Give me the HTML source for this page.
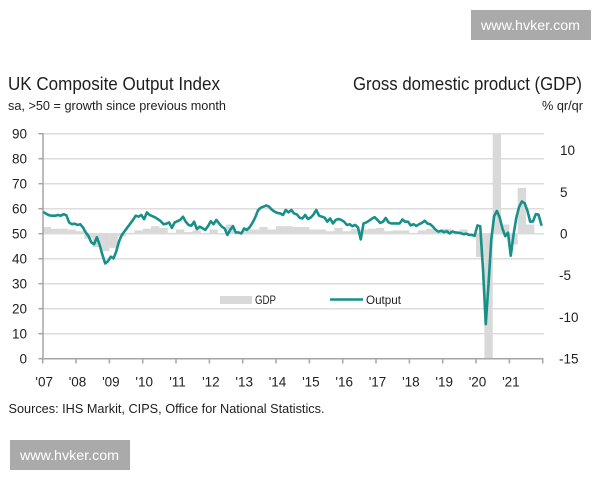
<!DOCTYPE html>
<html>
<head>
<meta charset="utf-8">
<style>
html,body{margin:0;padding:0;background:#fff;}
svg{display:block;}
text{font-family:"Liberation Sans", sans-serif;}
</style>
</head>
<body>
<svg width="600" height="480" viewBox="0 0 600 480" xmlns="http://www.w3.org/2000/svg">
<rect x="0" y="0" width="600" height="480" fill="#fff"/>

<!-- watermarks -->
<rect x="471" y="10" width="120" height="30" fill="#aaaaaa"/>
<text x="481" y="30" font-size="13.5" fill="#fff" textLength="99" lengthAdjust="spacingAndGlyphs">www.hvker.com</text>
<rect x="10" y="440" width="120" height="30" fill="#aaaaaa"/>
<text x="20" y="460" font-size="13.5" fill="#fff" textLength="99" lengthAdjust="spacingAndGlyphs">www.hvker.com</text>

<!-- titles -->
<text x="8" y="90" font-size="18.5" fill="#1e1e1e" textLength="212" lengthAdjust="spacingAndGlyphs">UK Composite Output Index</text>
<text x="8" y="110" font-size="13" fill="#1e1e1e" textLength="218" lengthAdjust="spacingAndGlyphs">sa, &gt;50 = growth since previous month</text>
<text x="353" y="90" font-size="18.5" fill="#1e1e1e" textLength="229" lengthAdjust="spacingAndGlyphs">Gross domestic product (GDP)</text>
<text x="542" y="110" font-size="13" fill="#1e1e1e" textLength="41" lengthAdjust="spacingAndGlyphs">% qr/qr</text>

<!-- gridlines -->
<g stroke="#dddddd" stroke-width="1.5">
<line x1="43" y1="133.7" x2="544" y2="133.7"/>
<line x1="43" y1="158.7" x2="544" y2="158.7"/>
<line x1="43" y1="183.7" x2="544" y2="183.7"/>
<line x1="43" y1="208.7" x2="544" y2="208.7"/>
<line x1="43" y1="233.7" x2="544" y2="233.7"/>
<line x1="43" y1="258.7" x2="544" y2="258.7"/>
<line x1="43" y1="283.7" x2="544" y2="283.7"/>
<line x1="43" y1="308.7" x2="544" y2="308.7"/>
<line x1="43" y1="333.7" x2="544" y2="333.7"/>
</g>

<!-- GDP bars -->
<g transform="translate(42.7 358.7) scale(2.7778 -2.5)" fill="#d9d9d9">
<rect x="0" y="50" width="3" height="2.67"/>
<rect x="3" y="50" width="3" height="2"/>
<rect x="6" y="50" width="3" height="2"/>
<rect x="9" y="50" width="3" height="1.67"/>
<rect x="12" y="50" width="3" height="1"/>
<rect x="15" y="48" width="3" height="2"/>
<rect x="18" y="44.67" width="3" height="5.33"/>
<rect x="21" y="43" width="3" height="7"/>
<rect x="24" y="44.33" width="3" height="5.67"/>
<rect x="27" y="49" width="3" height="1"/>
<rect x="30" y="50" width="3" height="0.33"/>
<rect x="33" y="50" width="3" height="1.33"/>
<rect x="36" y="50" width="3" height="2"/>
<rect x="39" y="50" width="3" height="3"/>
<rect x="42" y="50" width="3" height="2.33"/>
<rect x="45" y="50" width="3" height="0.33"/>
<rect x="48" y="50" width="3" height="1.67"/>
<rect x="51" y="50" width="3" height="0.67"/>
<rect x="54" y="50" width="3" height="1.33"/>
<rect x="57" y="50" width="3" height="0.33"/>
<rect x="60" y="50" width="3" height="1.67"/>
<rect x="63" y="49.67" width="3" height="0.33"/>
<rect x="66" y="50" width="3" height="3.67"/>
<rect x="69" y="49.67" width="3" height="0.33"/>
<rect x="72" y="50" width="3" height="2"/>
<rect x="75" y="50" width="3" height="1.67"/>
<rect x="78" y="50" width="3" height="2.67"/>
<rect x="81" y="50" width="3" height="1.67"/>
<rect x="84" y="50" width="3" height="3"/>
<rect x="87" y="50" width="3" height="3"/>
<rect x="90" y="50" width="3" height="2.67"/>
<rect x="93" y="50" width="3" height="2.67"/>
<rect x="96" y="50" width="3" height="1.67"/>
<rect x="99" y="50" width="3" height="1.67"/>
<rect x="102" y="50" width="3" height="1"/>
<rect x="105" y="50" width="3" height="2.33"/>
<rect x="108" y="50" width="3" height="1"/>
<rect x="111" y="50" width="3" height="2"/>
<rect x="114" y="50" width="3" height="1.67"/>
<rect x="117" y="50" width="3" height="2"/>
<rect x="120" y="50" width="3" height="2.33"/>
<rect x="123" y="50" width="3" height="1"/>
<rect x="126" y="50" width="3" height="1.33"/>
<rect x="129" y="50" width="3" height="1.33"/>
<rect x="132" y="50" width="3" height="0.33"/>
<rect x="135" y="50" width="3" height="1.33"/>
<rect x="138" y="50" width="3" height="2"/>
<rect x="141" y="50" width="3" height="1"/>
<rect x="144" y="50" width="3" height="2"/>
<rect x="147" y="49.67" width="3" height="0.33"/>
<rect x="150" y="50" width="3" height="1.67"/>
<rect x="156" y="40.67" width="3" height="9.33"/>
<rect x="159" y="0" width="3" height="50"/>
<rect x="162" y="50" width="3" height="40"/>
<rect x="165" y="50" width="3" height="3.67"/>
<rect x="168" y="45.67" width="3" height="4.33"/>
<rect x="171" y="50" width="3" height="18.33"/>
<rect x="174" y="50" width="3" height="3.67"/>
</g>

<!-- axes -->
<g stroke="#a6a6a6" stroke-width="1.5" fill="none">
<line x1="43" y1="133" x2="43" y2="359"/>
<line x1="42.7" y1="358.7" x2="543.5" y2="358.7"/>
<line x1="38.5" y1="133.7" x2="43" y2="133.7"/>
<line x1="38.5" y1="158.7" x2="43" y2="158.7"/>
<line x1="38.5" y1="183.7" x2="43" y2="183.7"/>
<line x1="38.5" y1="208.7" x2="43" y2="208.7"/>
<line x1="38.5" y1="233.7" x2="43" y2="233.7"/>
<line x1="38.5" y1="258.7" x2="43" y2="258.7"/>
<line x1="38.5" y1="283.7" x2="43" y2="283.7"/>
<line x1="38.5" y1="308.7" x2="43" y2="308.7"/>
<line x1="38.5" y1="333.7" x2="43" y2="333.7"/>
<line x1="38.5" y1="358.7" x2="43" y2="358.7"/>
<line x1="42.7" y1="358.7" x2="42.7" y2="363.5"/>
<line x1="76" y1="358.7" x2="76" y2="363.5"/>
<line x1="109.4" y1="358.7" x2="109.4" y2="363.5"/>
<line x1="142.7" y1="358.7" x2="142.7" y2="363.5"/>
<line x1="176" y1="358.7" x2="176" y2="363.5"/>
<line x1="209.4" y1="358.7" x2="209.4" y2="363.5"/>
<line x1="242.7" y1="358.7" x2="242.7" y2="363.5"/>
<line x1="276" y1="358.7" x2="276" y2="363.5"/>
<line x1="309.4" y1="358.7" x2="309.4" y2="363.5"/>
<line x1="342.7" y1="358.7" x2="342.7" y2="363.5"/>
<line x1="376" y1="358.7" x2="376" y2="363.5"/>
<line x1="409.4" y1="358.7" x2="409.4" y2="363.5"/>
<line x1="442.7" y1="358.7" x2="442.7" y2="363.5"/>
<line x1="476" y1="358.7" x2="476" y2="363.5"/>
<line x1="509.4" y1="358.7" x2="509.4" y2="363.5"/>
<line x1="542.7" y1="358.7" x2="542.7" y2="363.5"/>
</g>

<!-- Output line -->
<g transform="translate(42.7 358.7) scale(2.7778 -2.5)">
<polyline fill="none" stroke="#17908a" stroke-width="2.6" stroke-linejoin="round" stroke-linecap="round" vector-effect="non-scaling-stroke" points="0.5,58.5 1.5,57.8 2.5,57.3 3.5,57.2 4.5,57.2 5.5,57.5 6.5,57.2 7.5,57.8 8.5,57.4 9.5,54.5 10.5,53.8 11.5,54 12.5,53.5 13.5,53.8 14.5,52.5 15.5,50.5 16.5,49 17.5,46.5 18.5,45.8 19.5,48.6 20.5,45.5 21.5,41.5 22.5,38.1 23.5,39 24.5,40.8 25.5,40.1 26.5,43 27.5,47 28.5,49.5 29.5,51 30.5,52.5 31.5,54 32.5,55.5 33.5,57.2 34.5,56.8 35.5,57.5 36.5,55.8 37.5,58.5 38.5,57.5 39.5,57 40.5,56.5 41.5,55.8 42.5,55 43.5,53.8 44.5,54 45.5,54.5 46.5,52.3 47.5,54.5 48.5,55 49.5,55.5 50.5,56.8 51.5,54.8 52.5,53.5 53.5,53.2 54.5,54.8 55.5,51.8 56.5,52.8 57.5,52.2 58.5,51.5 59.5,53 60.5,55 61.5,53.8 62.5,55.5 63.5,54.1 64.5,52.8 65.5,52.1 66.5,49.5 67.5,51.5 68.5,53 69.5,50.5 70.5,50.5 71.5,50.1 72.5,52.1 73.5,51.5 74.5,52.6 75.5,54.3 76.5,56.5 77.5,59.3 78.5,60.4 79.5,60.8 80.5,61.3 81.5,60.8 82.5,59.6 83.5,58.8 84.5,58.3 85.5,58.1 86.5,57.5 87.5,59.5 88.5,58.5 89.5,59.5 90.5,58.1 91.5,57.7 92.5,56.4 93.5,56.1 94.5,57.5 95.5,55.9 96.5,56.5 97.5,57.7 98.5,59.5 99.5,57.2 100.5,56.8 101.5,56.4 102.5,54.8 103.5,56.1 104.5,54.1 105.5,55.5 106.5,55.9 107.5,55.5 108.5,54.8 109.5,53.5 110.5,53.8 111.5,53 112.5,53.5 113.5,52.5 114.5,47.7 115.5,54.1 116.5,54.5 117.5,55.2 118.5,56 119.5,56.6 120.5,55.5 121.5,54.3 122.5,54.8 123.5,56.3 124.5,54.5 125.5,54.1 126.5,54.1 127.5,54.1 128.5,54.1 129.5,55.7 130.5,54.8 131.5,54.8 132.5,53.3 133.5,53.8 134.5,53.1 135.5,53.8 136.5,54.3 137.5,55.2 138.5,54.1 139.5,53.8 140.5,52.8 141.5,51.5 142.5,50.8 143.5,51.2 144.5,50.6 145.5,51 146.5,50.1 147.5,50.9 148.5,50.5 149.5,50.4 150.5,50.2 151.5,49.8 152.5,50 153.5,49.5 154.5,49.5 155.5,49.1 156.5,53.3 157.5,53 158.5,36 159.5,13.8 160.5,30 161.5,47.7 162.5,57 163.5,59.1 164.5,56.5 165.5,52.1 166.5,49 167.5,50.4 168.5,41.2 169.5,49.6 170.5,56.4 171.5,60.7 172.5,62.9 173.5,62.2 174.5,59.2 175.5,54.8 176.5,54.9 177.5,57.8 178.5,57.6 179.5,53.6"/>
</g>

<!-- legend -->
<rect x="220" y="296" width="32" height="8" fill="#d9d9d9"/>
<text x="255" y="304" font-size="12" fill="#1e1e1e" textLength="21" lengthAdjust="spacingAndGlyphs">GDP</text>
<line x1="330" y1="299.5" x2="363" y2="299.5" stroke="#17908a" stroke-width="2.6"/>
<text x="366" y="304" font-size="12" fill="#1e1e1e" textLength="35" lengthAdjust="spacingAndGlyphs">Output</text>

<!-- left labels -->
<g font-size="13.5" fill="#1e1e1e" text-anchor="end">
<text x="27" y="138.5">90</text>
<text x="27" y="163.5">80</text>
<text x="27" y="188.5">70</text>
<text x="27" y="213.5">60</text>
<text x="27" y="238.5">50</text>
<text x="27" y="263.5">40</text>
<text x="27" y="288.5">30</text>
<text x="27" y="313.5">20</text>
<text x="27" y="338.5">10</text>
<text x="27" y="363.5">0</text>
</g>

<!-- right labels -->
<g font-size="13.5" fill="#1e1e1e">
<text x="560" y="155.2">10</text>
<text x="560" y="196.9">5</text>
<text x="560" y="238.5">0</text>
<text x="559" y="280.2">-5</text>
<text x="559" y="321.9">-10</text>
<text x="559" y="363.5">-15</text>
</g>

<!-- x labels -->
<g font-size="13.5" fill="#1e1e1e" text-anchor="middle">
<text x="44.2" y="386.5">'07</text>
<text x="77.5" y="386.5">'08</text>
<text x="110.9" y="386.5">'09</text>
<text x="144.2" y="386.5">'10</text>
<text x="177.5" y="386.5">'11</text>
<text x="210.9" y="386.5">'12</text>
<text x="244.2" y="386.5">'13</text>
<text x="277.5" y="386.5">'14</text>
<text x="310.9" y="386.5">'15</text>
<text x="344.2" y="386.5">'16</text>
<text x="377.5" y="386.5">'17</text>
<text x="410.9" y="386.5">'18</text>
<text x="444.2" y="386.5">'19</text>
<text x="477.5" y="386.5">'20</text>
<text x="510.9" y="386.5">'21</text>
</g>

<text x="8.5" y="413" font-size="13" fill="#1e1e1e" textLength="316" lengthAdjust="spacingAndGlyphs">Sources: IHS Markit, CIPS, Office for National Statistics.</text>
</svg>
</body>
</html>
